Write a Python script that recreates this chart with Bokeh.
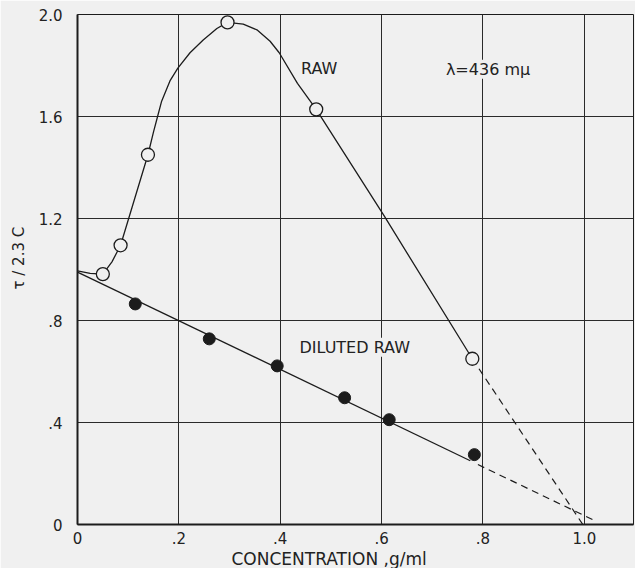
from bokeh.plotting import figure
from bokeh.models import Range1d, FixedTicker, Label, Title
from bokeh.embed import file_html
from bokeh.resources import INLINE

# ---- data ----
raw_x = [0.050, 0.085, 0.139, 0.296, 0.471, 0.779]
raw_y = [0.982, 1.095, 1.450, 1.969, 1.628, 0.650]

dil_x = [0.114, 0.260, 0.394, 0.527, 0.615, 0.783]
dil_y = [0.865, 0.728, 0.622, 0.497, 0.411, 0.274]

# hand-drawn smooth curve through the RAW points
raw_curve_x = [0.0, 0.025, 0.050, 0.068, 0.085, 0.139, 0.150, 0.158, 0.166, 0.183,
               0.198, 0.222, 0.248, 0.275, 0.296, 0.327, 0.354, 0.380, 0.398, 0.434,
               0.471, 0.606, 0.779]
raw_curve_y = [0.995, 0.985, 0.982, 1.030, 1.095, 1.450, 1.540, 1.600, 1.660, 1.742,
               1.790, 1.850, 1.900, 1.945, 1.969, 1.962, 1.940, 1.895, 1.850, 1.730,
               1.628, 1.207, 0.650]
raw_extrap_x = [0.779, 0.997]
raw_extrap_y = [0.650, 0.0]

# straight line through the DILUTED RAW points and its extrapolation
dil_fit_x = [0.0, 0.775]
dil_fit_y = [0.990, 0.250]
dil_extrap_x = [0.790, 1.024]
dil_extrap_y = [0.235, 0.012]

x_ticks = [0.0, 0.2, 0.4, 0.6, 0.8, 1.0]
x_tick_labels = ["0", ".2", ".4", ".6", ".8", "1.0"]
y_ticks = [0.0, 0.4, 0.8, 1.2, 1.6, 2.0]
y_tick_labels = ["0", ".4", ".8", "1.2", "1.6", "2.0"]

BG = "#f0f0f0"
INK = "#1c1c1c"
TXT = "#222222"
FONT = "DejaVu Sans"

p = figure(width=635, height=568, output_backend="svg", toolbar_location=None,
           x_range=Range1d(0, 1.097), y_range=Range1d(0, 2.0),
           min_border_left=77, min_border_right=2, min_border_top=14, min_border_bottom=43)

p.background_fill_color = BG
p.border_fill_color = BG
p.outline_line_color = INK
p.outline_line_width = 1

for ax, ticks, labels in ((p.xaxis[0], x_ticks, x_tick_labels), (p.yaxis[0], y_ticks, y_tick_labels)):
    ax.ticker = FixedTicker(ticks=ticks)
    ax.major_label_overrides = {t: l for t, l in zip(ticks, labels)}
    ax.major_tick_line_color = None
    ax.major_tick_out = 0
    ax.major_tick_in = 0
    ax.minor_tick_line_color = None
    ax.minor_tick_out = 0
    ax.minor_tick_in = 0
    ax.axis_line_color = INK
    ax.axis_line_width = 2
    ax.major_label_text_font = FONT
    ax.major_label_text_font_size = "15px"
    ax.major_label_text_color = TXT

p.xaxis.major_label_standoff = 7
p.yaxis.major_label_standoff = 15

yt = Title(text="τ / 2.3 C", align="left", offset=235, standoff=15,
           text_font=FONT, text_font_size="15px", text_font_style="normal",
           text_color=TXT)
p.add_layout(yt, "left")

xt = Title(text="CONCENTRATION ,g/ml", align="left", offset=154, standoff=0,
           text_font=FONT, text_font_size="17px", text_font_style="normal",
           text_color=TXT)
p.add_layout(xt, "below")

p.xgrid.ticker = FixedTicker(ticks=x_ticks)
p.ygrid.ticker = FixedTicker(ticks=y_ticks)
p.grid.grid_line_color = "#2a2a2a"
p.grid.grid_line_width = 1
p.grid.grid_line_alpha = 1.0

# lines
p.line(raw_curve_x, raw_curve_y, line_color=INK, line_width=1.3)
p.line(raw_extrap_x, raw_extrap_y, line_color=INK, line_width=1.2, line_dash="7 5")
p.line(dil_fit_x, dil_fit_y, line_color=INK, line_width=1.3)
p.line(dil_extrap_x, dil_extrap_y, line_color=INK, line_width=1.2, line_dash="7 5")

# markers
p.scatter(raw_x, raw_y, marker="circle", size=13, fill_color=BG, line_color=INK, line_width=1.3)
p.scatter(dil_x, dil_y, marker="circle", size=12, fill_color=INK, line_color=INK)

# annotations
def lab(x, y, text, size="15px", bg=None):
    l = Label(x=x, y=y, text=text, text_font=FONT, text_font_size=size,
              text_color=TXT, text_align="center", text_baseline="middle")
    if bg is not None:
        l.background_fill_color = bg
        l.background_fill_alpha = 1.0
    p.add_layout(l)

lab(0.477, 1.79, "RAW", size="16px")
lab(0.547, 0.695, "DILUTED RAW", size="16px", bg=BG)
lab(0.81, 1.785, "λ=436 mμ", size="16px", bg=BG)

open("out.html", "w").write(file_html(p, INLINE))
